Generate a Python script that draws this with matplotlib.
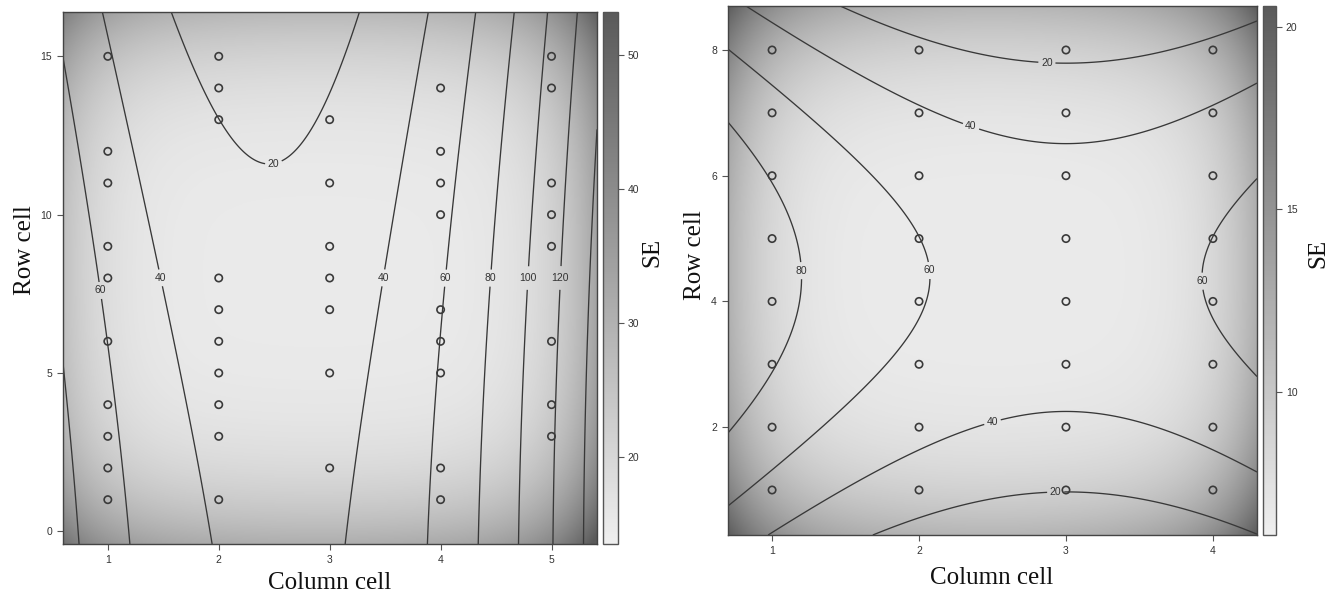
import numpy as np
import matplotlib
matplotlib.use("Agg")
import matplotlib.pyplot as plt
from matplotlib.colors import LinearSegmentedColormap

# ---------------- data ----------------
# Left panel: design points
left_pts_x = [1]*10 + [2]*10 + [3]*7 + [4]*9 + [5]*8
left_pts_y = ([1, 2, 3, 4, 6, 8, 9, 11, 12, 15] +
              [1, 3, 4, 5, 6, 7, 8, 13, 14, 15] +
              [2, 5, 7, 8, 9, 11, 13] +
              [1, 2, 5, 6, 7, 10, 11, 12, 14] +
              [3, 4, 6, 9, 10, 11, 14, 15])
left_xlim = (0.596, 5.41)
left_ylim = (-0.4, 16.4)
left_xticks = [1, 2, 3, 4, 5]
left_yticks = [0, 5, 10, 15]
left_cbar_range = (13.5, 53.2)
left_cbar_ticks = [20, 30, 40, 50]
# contour surface: row minimum and valley centre at three rows, curvature
left_rows_y = [-0.4, 8.0, 16.4]
left_row_min = [35.0, 26.0, 10.0]
left_row_center = [2.54, 2.48, 2.42]
left_curvature = 13.9
left_levels = [20, 40, 60, 80, 100, 120, 140]
# SE shading: centre, half extents, minimum, x rise, y rise, corner extra
left_se_center = (2.9, 8.2)
left_se_half = (2.51, 8.4)
left_se_min = 14.8
left_se_rise_x = 18.5
left_se_rise_y = 14.5
left_se_corner = 5.5

# Right panel: full 4 x 8 design
right_pts_x = [c for c in [1, 2, 3, 4] for r in range(1, 9)]
right_pts_y = [r for c in [1, 2, 3, 4] for r in range(1, 9)]
right_xlim = (0.70, 4.30)
right_ylim = (0.284, 8.70)
right_xticks = [1, 2, 3, 4]
right_yticks = [2, 4, 6, 8]
right_cbar_range = (6.08, 20.57)
right_cbar_ticks = [10, 15, 20]
# contour surface: saddle
right_saddle_xy = (3.0, 4.38)
right_saddle_value = 52.8
right_curv_x = 8.4
right_curv_y = 2.82
right_levels = [20, 40, 60, 80]
right_se_center = (2.5, 4.5)
right_se_half = (1.8, 4.22)
right_se_min = 6.5
right_se_rise_x = 5.7
right_se_rise_y = 5.2
right_se_corner = 3.0

# ---------------- styling ----------------
W, H = 1342, 597
fig = plt.figure(figsize=(W / 100, H / 100), dpi=100)
cmap = LinearSegmentedColormap.from_list("se", ["#efefef", "#5a5a5a"])
serif = ["Liberation Serif", "DejaVu Serif"]
sans = ["Liberation Sans", "DejaVu Sans"]
line_col = "#383838"


def px_rect(x0, y0, x1, y1):
    return [x0 / W, 1 - y1 / H, (x1 - x0) / W, (y1 - y0) / H]


def se_field(X, Y, center, half, smin, rise_x, rise_y, corner):
    u = (X - center[0]) / half[0]
    v = (Y - center[1]) / half[1]
    return smin + rise_x * u ** 6 + rise_y * v ** 4 + corner * u ** 2 * v ** 2


def style_axes(ax, xticks, yticks, xlim, ylim):
    ax.set_xlim(*xlim)
    ax.set_ylim(*ylim)
    ax.set_xticks(xticks)
    ax.set_yticks(yticks)
    ax.tick_params(direction="out", length=4, width=0.8, color="#555555",
                   labelcolor="#333333", labelsize=7.5, pad=4)
    for lab in ax.get_xticklabels() + ax.get_yticklabels():
        lab.set_family(sans)
    for s in ax.spines.values():
        s.set_color("#444444")
        s.set_linewidth(1.0)


def style_cbar(cb, ticks):
    cb.set_ticks(ticks)
    cb.ax.tick_params(direction="out", length=4, width=0.8, color="#555555",
                      labelcolor="#333333", labelsize=7.5, pad=3)
    for lab in cb.ax.get_yticklabels():
        lab.set_family(sans)
    cb.outline.set_edgecolor("#555555")
    cb.outline.set_linewidth(1.0)


def panel(ax_rect, cax_rect, xlim, ylim, xticks, yticks, F, SE, levels,
          crange, cticks, ptsx, ptsy, manual, xs, ys):
    ax = fig.add_axes(ax_rect)
    im = ax.imshow(SE, extent=(xlim[0], xlim[1], ylim[0], ylim[1]),
                   origin="lower", aspect="auto", cmap=cmap,
                   vmin=crange[0], vmax=crange[1], interpolation="bilinear")
    cs = ax.contour(xs, ys, F, levels=levels, colors=line_col, linewidths=0.95)
    lbls = ax.clabel(cs, manual=manual, inline=True, fontsize=7.5, fmt="%d",
                     inline_spacing=2)
    for t in lbls:
        t.set_color("#333333")
        t.set_family(sans)
        t.set_rotation(0)
    ax.scatter(ptsx, ptsy, s=28, facecolors="none", edgecolors="#3a3a3a",
               linewidths=1.2, zorder=5)
    style_axes(ax, xticks, yticks, xlim, ylim)
    cax = fig.add_axes(cax_rect)
    cb = fig.colorbar(im, cax=cax)
    style_cbar(cb, cticks)
    return ax


# ---- left panel ----
lxs = np.linspace(left_xlim[0], left_xlim[1], 500)
lys = np.linspace(left_ylim[0], left_ylim[1], 500)
LX, LY = np.meshgrid(lxs, lys)
m_poly = np.polyfit(left_rows_y, left_row_min, 2)
c_poly = np.polyfit(left_rows_y, left_row_center, 1)
LF = np.polyval(m_poly, LY) + left_curvature * (LX - np.polyval(c_poly, LY)) ** 2
LSE = se_field(LX, LY, left_se_center, left_se_half, left_se_min,
               left_se_rise_x, left_se_rise_y, left_se_corner)
left_manual = [(2.5, 11.5), (1.47, 8.0), (0.92, 7.6), (3.49, 8.0), (4.03, 8.0),
               (4.44, 8.0), (4.78, 8.0), (5.09, 8.0)]
axL = panel(px_rect(63, 12, 597, 544), px_rect(603, 12, 618, 544),
            left_xlim, left_ylim, left_xticks, left_yticks, LF, LSE, left_levels,
            left_cbar_range, left_cbar_ticks, left_pts_x, left_pts_y,
            left_manual, lxs, lys)

# ---- right panel ----
rxs = np.linspace(right_xlim[0], right_xlim[1], 500)
rys = np.linspace(right_ylim[0], right_ylim[1], 500)
RX, RY = np.meshgrid(rxs, rys)
RF = (right_saddle_value + right_curv_x * (RX - right_saddle_xy[0]) ** 2
      - right_curv_y * (RY - right_saddle_xy[1]) ** 2)
RSE = se_field(RX, RY, right_se_center, right_se_half, right_se_min,
               right_se_rise_x, right_se_rise_y, right_se_corner)
right_manual = [(2.87, 7.79), (2.35, 6.76), (1.2, 4.49), (2.06, 4.49),
                (3.91, 4.32), (2.5, 2.08), (2.93, 0.97)]
axR = panel(px_rect(728, 6, 1257, 535), px_rect(1263, 6, 1276, 535),
            right_xlim, right_ylim, right_xticks, right_yticks, RF, RSE,
            right_levels, right_cbar_range, right_cbar_ticks,
            right_pts_x, right_pts_y, right_manual, rxs, rys)

# ---- texts ----
lab_kw = dict(family=serif, fontsize=18, color="#111111")
fig.text(330 / W, 1 - 583 / H, "Column cell", ha="center", va="center", **lab_kw)
fig.text(992 / W, 1 - 578 / H, "Column cell", ha="center", va="center", **lab_kw)
fig.text(25 / W, 1 - 250 / H, "Row cell", rotation=90, ha="center", va="center", **lab_kw)
fig.text(695 / W, 1 - 255 / H, "Row cell", rotation=90, ha="center", va="center", **lab_kw)
fig.text(652 / W, 1 - 252 / H, "SE", rotation=90, ha="center", va="center", **lab_kw)
fig.text(1318 / W, 1 - 253 / H, "SE", rotation=90, ha="center", va="center", **lab_kw)

fig.savefig("out.png", dpi=100, facecolor="white")
